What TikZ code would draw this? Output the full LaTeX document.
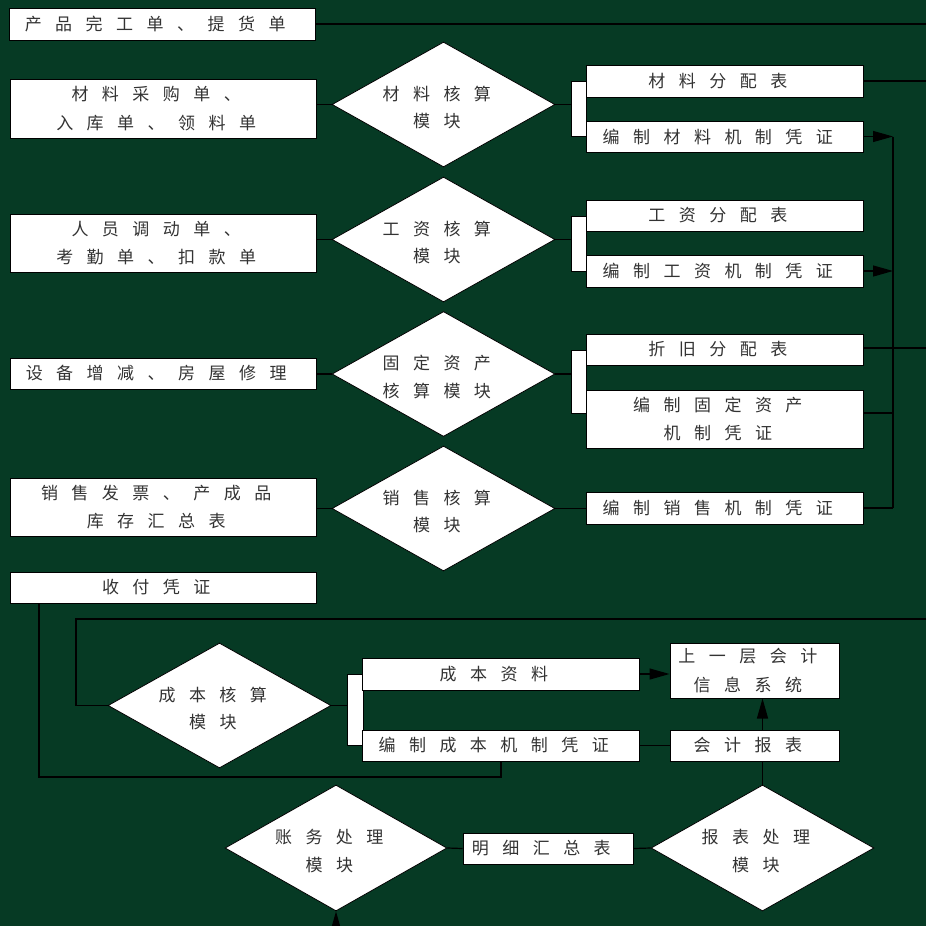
\documentclass[tikz,border=0pt]{standalone}
\usepackage{fontspec}
\usetikzlibrary{shapes.geometric,arrows.meta}
\newfontfamily\cjk{Noto Sans CJK SC}
\definecolor{bggreen}{HTML}{063A24}
\newcommand\SP[1]{\SPa#1\relax}
\def\SPa#1{\ifx\relax#1\else#1\hspace{13.5pt}\expandafter\SPa\fi}
\newcommand\SPm[1]{\SP{#1}\hspace{14pt}}
\newcommand\SPt[1]{\rule{0pt}{20pt}\SP{#1}\hspace{14pt}}
\begin{document}
\begin{tikzpicture}[x=1pt,y=-1pt,
  txt/.style={text=black!80, font=\cjk\fontsize{17}{28.5}\selectfont, align=center},
  box/.style={txt, draw=black, fill=white, line width=1pt, inner sep=0pt, minimum width=277pt, minimum height=32pt},
  lbox/.style={box, minimum width=306pt},
  dia/.style={txt, font=\cjk\fontsize{17}{27.5}\selectfont, diamond, aspect=1.8, draw=black, fill=white, line width=0.8pt, inner sep=0pt, minimum width=223pt, minimum height=125pt},
  brk/.style={draw=black, fill=white, line width=1pt, inner sep=0pt, minimum width=15pt},
  ln/.style={line width=1.2pt, black},
  arr/.style={ln, -{Triangle[length=20pt,width=11pt]}}]
\fill[bggreen] (0,0) rectangle (926,926);
\useasboundingbox (0,0) rectangle (926,926);

% free ends
\coordinate (e1) at (926,24);
\coordinate (e2) at (926,81);
\coordinate (e3) at (926,348);
\coordinate (v1) at (893,136.5);
\coordinate (v2) at (893,271);
\coordinate (v3) at (893,413);
\coordinate (v4) at (893,508);
\coordinate (q0) at (926,619);
\coordinate (q1) at (76,619);
\coordinate (pa) at (39,777);
\coordinate (pb) at (501,777);
\coordinate (bt) at (336,926);

% brackets
\node[brk, minimum height=55pt] (br1) at (578.5,108.5) {};
\node[brk, minimum height=55pt] (br2) at (578.5,243.5) {};
\node[brk, minimum height=63pt] (br3) at (578.5,381.5) {};
\node[brk, minimum width=16pt, minimum height=71pt] (br5) at (355,709.5) {};

% left input boxes
\node[lbox] (bprod) at (162,24) {\SP{产品完工单、提货单}};
\node[lbox, minimum height=59pt] (bmat) at (163,108.5) {\SPm{材料采购单、}\\\SPm{入库单、领料单}};
\node[lbox, minimum height=58pt] (bhr) at (163,243) {\SPm{人员调动单、}\\\SPm{考勤单、扣款单}};
\node[lbox, minimum height=31pt] (beq) at (163,373.5) {\SP{设备增减、房屋修理}};
\node[lbox, minimum height=58pt] (bsales) at (163,507) {\SPm{销售发票、产成品}\\\SPm{库存汇总表}};
\node[lbox, minimum height=31pt] (bpay) at (163,587.5) {\SP{收付凭证}};

% diamonds
\node[dia] (d1) at (443.5,104.5) {\SPt{材料核算}\\\SPm{模块}};
\node[dia] (d2) at (443.5,239.5) {\SPt{工资核算}\\\SPm{模块}};
\node[dia] (d3) at (443.5,374) {\SPt{固定资产}\\\SPm{核算模块}};
\node[dia] (d4) at (443.5,508.5) {\SPt{销售核算}\\\SPm{模块}};
\node[dia] (d5) at (219.5,705.5) {\SPt{成本核算}\\\SPm{模块}};
\node[dia, minimum width=222pt, minimum height=126pt] (d6) at (336,848) {\SPt{账务处理}\\\SPm{模块}};
\node[dia, minimum height=126pt] (d7) at (762.5,848) {\SPt{报表处理}\\\SPm{模块}};

% right boxes
\node[box] (bmatd) at (724.5,81) {\SP{材料分配表}};
\node[box, minimum height=31pt] (bmatv) at (724.5,136.5) {\SP{编制材料机制凭证}};
\node[box, minimum height=31pt] (bwage) at (724.5,215.5) {\SP{工资分配表}};
\node[box] (bwagev) at (724.5,271) {\SP{编制工资机制凭证}};
\node[box, minimum height=31pt] (bdepr) at (724.5,349.5) {\SP{折旧分配表}};
\node[box, minimum height=58pt] (bfixv) at (724.5,419) {\SPm{编制固定资产}\\\SPm{机制凭证}};
\node[box] (bsalesv) at (724.5,508) {\SP{编制销售机制凭证}};

% cost area
\node[box] (bcdata) at (500.5,674) {\SP{成本资料}};
\node[box, minimum height=31pt] (bcvou) at (500.5,745.5) {\SP{编制成本机制凭证}};
\node[box, minimum width=169pt, minimum height=55pt] (bupper) at (754.5,670.5) {\SPm{上一层会计}\\\SPm{信息系统}};
\node[box, minimum width=169pt, minimum height=31pt] (bacct) at (754.5,745.5) {\SP{会计报表}};
\node[box, minimum width=170pt, minimum height=31pt] (bledger) at (548,848.5) {\SP{明细汇总表}};

% connectors
\draw[ln] (bprod.east |- e1) -- (e1);
\draw[ln] (d1.west -| bmat.east) -- (d1.west);
\draw[ln] (d1.east) -- (d1.east -| br1.west);
\draw[ln] (bmatd.east |- e2) -- (e2);
\draw[arr] (bmatv.east) -- (v1);

\draw[ln] (d2.west -| bhr.east) -- (d2.west);
\draw[ln] (d2.east) -- (d2.east -| br2.west);
\draw[arr] (bwagev.east) -- (v2);

\draw[ln] (d3.west -| beq.east) -- (d3.west);
\draw[ln] (d3.east) -- (d3.east -| br3.west);
\draw[ln] (bdepr.east |- e3) -- (e3);
\draw[ln] (bfixv.east |- v3) -- (v3);

\draw[ln] (d4.west -| bsales.east) -- (d4.west);
\draw[ln] (d4.east) -- (d4.east -| bsalesv.west);
\draw[ln] (bsalesv.east |- v4) -- (v4);

\draw[ln] (v1) -- (v4);

\draw[ln] (bpay.south -| pa) -- (pa) -- (pb) -- (pb |- bcvou.south);
\draw[ln] (q0) -- (q1) |- (d5.west);
\draw[ln] (d5.east) -- (d5.east -| br5.west);
\draw[arr] (bcdata.east) -- (bcdata.east -| bupper.west);
\draw[ln] (bcvou.east) -- (bacct.west);
\draw[arr] (d7.north |- bacct.north) -- (d7.north |- bupper.south);
\draw[ln] (d7.north) -- (d7.north |- bacct.south);
\draw[ln] (d6.east) -- (bledger.west);
\draw[ln] (bledger.east) -- (d7.west);
\draw[arr] (bt) -- (d6.south);
\end{tikzpicture}
\end{document}
